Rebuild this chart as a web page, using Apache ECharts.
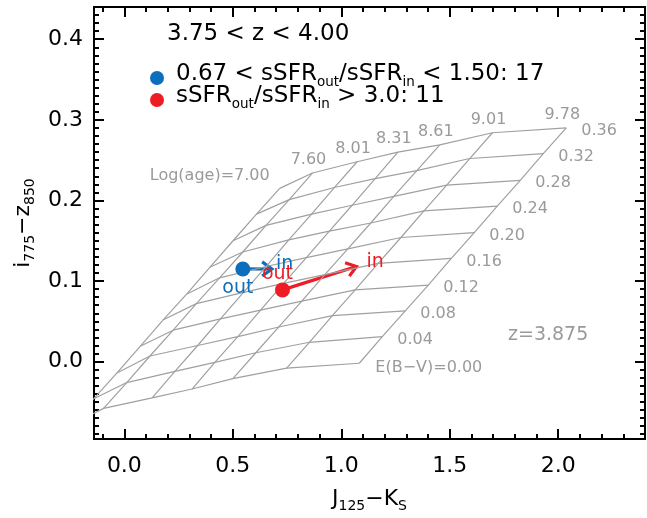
<!DOCTYPE html>
<html>
<head>
<meta charset="utf-8">
<script src="https://cdn.jsdelivr.net/npm/echarts@6/dist/echarts.min.js"></script>
<style>
html,body{margin:0;padding:0;background:#fff;}
#chart{width:647px;height:518px;}
</style>
</head>
<body>
<div id="chart"></div>
<script>
// ---- data ----
const ages = ['7.00', '7.60', '8.01', '8.31', '8.61', '9.01', '9.78'];
const ebv = ['0.00', '0.04', '0.08', '0.12', '0.16', '0.20', '0.24', '0.28', '0.32', '0.36'];

// J125-Ks and i775-z850 of the model grid, one pair of arrays per log(age), ordered by E(B-V)
const jk_700 = [-0.248, -0.141, -0.034, 0.073, 0.180, 0.288, 0.394, 0.501, 0.609, 0.716];
const iz_700 = [-0.079, -0.046, -0.014, 0.019, 0.052, 0.084, 0.117, 0.150, 0.183, 0.215];
const jk_760 = [-0.096, 0.011, 0.118, 0.225, 0.332, 0.439, 0.546, 0.653, 0.760, 0.867];
const iz_760 = [-0.058, -0.026, 0.007, 0.039, 0.072, 0.104, 0.136, 0.169, 0.201, 0.234];
const jk_801 = [0.128, 0.233, 0.338, 0.443, 0.549, 0.653, 0.758, 0.863, 0.968, 1.073];
const iz_801 = [-0.045, -0.012, 0.020, 0.053, 0.086, 0.118, 0.151, 0.183, 0.216, 0.248];
const jk_831 = [0.312, 0.417, 0.523, 0.628, 0.734, 0.839, 0.945, 1.050, 1.156, 1.261];
const iz_831 = [-0.034, -0.001, 0.031, 0.064, 0.097, 0.129, 0.162, 0.194, 0.227, 0.260];
const jk_861 = [0.500, 0.606, 0.712, 0.818, 0.924, 1.030, 1.136, 1.242, 1.348, 1.454];
const iz_861 = [-0.021, 0.011, 0.043, 0.075, 0.108, 0.140, 0.172, 0.205, 0.237, 0.269];
const jk_901 = [0.748, 0.853, 0.959, 1.064, 1.170, 1.275, 1.381, 1.486, 1.592, 1.697];
const iz_901 = [-0.008, 0.024, 0.057, 0.089, 0.122, 0.154, 0.187, 0.219, 0.252, 0.284];
const jk_978 = [1.083, 1.189, 1.295, 1.401, 1.507, 1.613, 1.719, 1.825, 1.931, 2.037];
const iz_978 = [-0.002, 0.031, 0.063, 0.095, 0.128, 0.160, 0.193, 0.225, 0.258, 0.290];

// galaxies: outer and inner colours
const blueOut = [0.546, 0.115];
const blueIn = [0.680, 0.115];
const redOut = [0.729, 0.089];
const redIn = [1.070, 0.118];

const xTicks = [0.0, 0.5, 1.0, 1.5, 2.0];
const yTicks = [0.0, 0.1, 0.2, 0.3, 0.4];

const legendTitle = '3.75 < z < 4.00';
const blueCount = 17;
const redCount = 11;
const zModel = 'z=3.875';

// ---- build ----
const jkByAge = [jk_700, jk_760, jk_801, jk_831, jk_861, jk_901, jk_978];
const izByAge = [iz_700, iz_760, iz_801, iz_831, iz_861, iz_901, iz_978];

const XMIN = -0.14, XMAX = 2.4, YMIN = -0.096, YMAX = 0.44;
const xMinor = [];
for (let i = -1; i <= 23; i++) { if (i % 5 !== 0) xMinor.push(+(i * 0.1).toFixed(2)); }
const yMinor = [];
for (let i = -9; i <= 43; i++) { if (i % 10 !== 0) yMinor.push(+(i * 0.01).toFixed(3)); }

const FONT = 'DejaVu Sans';
const GRAY = '#a0a0a0';
const LGRAY = '#9a9a9a';
const BLUE = '#0d6ebb';
const RED = '#ee1d25';

function mkX(pos, ticks, len, labels, width) {
  return {
    type: 'value', position: pos, min: XMIN, max: XMAX,
    axisLine: { show: false, onZero: false }, splitLine: { show: false },
    axisTick: { show: true, inside: true, length: len, customValues: ticks, lineStyle: { color: '#000', width: width } },
    axisLabel: labels ? { show: true, customValues: xTicks, margin: 16, color: '#000', fontFamily: FONT, fontSize: 22, formatter: v => v.toFixed(1) } : { show: false }
  };
}
function mkY(pos, ticks, len, labels, width) {
  return {
    type: 'value', position: pos, min: YMIN, max: YMAX,
    axisLine: { show: false, onZero: false }, splitLine: { show: false },
    axisTick: { show: true, inside: true, length: len, customValues: ticks, lineStyle: { color: '#000', width: width } },
    axisLabel: labels ? { show: true, customValues: yTicks, margin: 11, color: '#000', fontFamily: FONT, fontSize: 22, formatter: v => v.toFixed(1) } : { show: false }
  };
}

const series = [];
// constant-age lines
ages.forEach((a, i) => {
  series.push({
    type: 'line', xAxisIndex: 0, yAxisIndex: 0, symbol: 'none', silent: true, clip: true,
    lineStyle: { color: GRAY, width: 1.2 },
    data: jkByAge[i].map((x, k) => [x, izByAge[i][k]])
  });
});
// constant-E(B-V) lines
ebv.forEach((e, k) => {
  series.push({
    type: 'line', xAxisIndex: 0, yAxisIndex: 0, symbol: 'none', silent: true, clip: true,
    lineStyle: { color: GRAY, width: 1.2 },
    data: ages.map((a, i) => [jkByAge[i][k], izByAge[i][k]])
  });
});

// grid labels (age along the top edge, E(B-V) along the right edge)
const labelData = [];
ages.forEach((a, i) => {
  labelData.push({ value: [jkByAge[i][9], izByAge[i][9]], text: i === 0 ? 'Log(age)=' + a : a, kind: i === 0 ? 'ageFirst' : 'age' });
});
ebv.forEach((e, k) => {
  labelData.push({ value: [jk_978[k], iz_978[k]], text: k === 0 ? 'E(B\u2212V)=' + e : e, kind: k === 0 ? 'ebvFirst' : 'ebv' });
});
series.push({
  type: 'custom', xAxisIndex: 0, yAxisIndex: 0, silent: true, clip: false,
  data: labelData,
  renderItem: (params, api) => {
    const d = labelData[params.dataIndex];
    const p = api.coord([api.value(0), api.value(1)]);
    let x, y, align;
    if (d.kind === 'ageFirst') { x = p[0] - 10; y = p[1] - 12; align = 'right'; }
    else if (d.kind === 'age') { x = p[0] - 4; y = p[1] - 13; align = 'center'; }
    else if (d.kind === 'ebvFirst') { x = p[0] + 16; y = p[1] + 5; align = 'left'; }
    else { x = p[0] + 15; y = p[1] + 3; align = 'left'; }
    return { type: 'text', x: x, y: y, style: { text: d.text, fill: LGRAY, font: '16px "' + FONT + '"', align: align, verticalAlign: 'middle' } };
  }
});

// arrows from outer to inner colours
const arrowData = [
  { value: [blueOut[0], blueOut[1], blueIn[0], blueIn[1]], color: BLUE },
  { value: [redOut[0], redOut[1], redIn[0], redIn[1]], color: RED }
];
series.push({
  type: 'custom', xAxisIndex: 0, yAxisIndex: 0, silent: true, clip: false,
  data: arrowData,
  renderItem: (params, api) => {
    const c = arrowData[params.dataIndex].color;
    const p0 = api.coord([api.value(0), api.value(1)]);
    const p1 = api.coord([api.value(2), api.value(3)]);
    const ang = Math.atan2(p1[1] - p0[1], p1[0] - p0[0]);
    const L = 12, A = Math.PI / 5;
    const h1 = [p1[0] - L * Math.cos(ang - A), p1[1] - L * Math.sin(ang - A)];
    const h2 = [p1[0] - L * Math.cos(ang + A), p1[1] - L * Math.sin(ang + A)];
    return {
      type: 'group', children: [
        { type: 'line', shape: { x1: p0[0], y1: p0[1], x2: p1[0], y2: p1[1] }, style: { stroke: c, lineWidth: 3.2 } },
        { type: 'polyline', shape: { points: [h1, p1, h2] }, style: { stroke: c, lineWidth: 3.2, fill: null, lineJoin: 'miter' } }
      ]
    };
  }
});
// dots
series.push({
  type: 'scatter', xAxisIndex: 0, yAxisIndex: 0, silent: true, symbolSize: 15, z: 5,
  itemStyle: { opacity: 1 },
  data: [{ value: blueOut, itemStyle: { color: BLUE } }, { value: redOut, itemStyle: { color: RED } }]
});
// out / in labels
const tagData = [
  { value: blueIn, text: 'in', color: BLUE, dx: 4, dy: -5, align: 'left' },
  { value: blueOut, text: 'out', color: BLUE, dx: -5, dy: 19, align: 'center' },
  { value: redOut, text: 'out', color: RED, dx: -5, dy: -16, align: 'center' },
  { value: redIn, text: 'in', color: RED, dx: 10, dy: -4, align: 'left' }
];
series.push({
  type: 'custom', xAxisIndex: 0, yAxisIndex: 0, silent: true, clip: false, z: 6,
  data: tagData,
  renderItem: (params, api) => {
    const d = tagData[params.dataIndex];
    const p = api.coord([api.value(0), api.value(1)]);
    return { type: 'text', x: p[0] + d.dx, y: p[1] + d.dy, style: { text: d.text, fill: d.color, font: '19px "' + FONT + '"', align: d.align, verticalAlign: 'middle' } };
  }
});

const rich = {
  m: { fontFamily: FONT, fontSize: 23, color: '#000', lineHeight: 30, verticalAlign: 'middle' },
  s: { fontFamily: FONT, fontSize: 13.5, color: '#000', lineHeight: 14, verticalAlign: 'bottom', padding: [0, 0, 0, 0] }
};

const option = {
  animation: false,
  backgroundColor: '#fff',
  grid: { left: 94, right: 2, top: 7, bottom: 74, show: true, borderColor: '#000', borderWidth: 2, backgroundColor: 'transparent', containLabel: false },
  xAxis: [
    Object.assign(mkX('bottom', xTicks, 10, true, 2), {
      name: '{m|J}{s|125}{m|\u2212K}{s|S}', nameLocation: 'middle', nameGap: 46,
      nameTextStyle: { rich: { m: { fontFamily: FONT, fontSize: 22, color: '#000', lineHeight: 28 }, s: { fontFamily: FONT, fontSize: 14, color: '#000', lineHeight: 14, verticalAlign: 'bottom' } } }
    }),
    mkX('bottom', xMinor, 5, false, 2),
    mkX('top', xTicks, 10, false, 2),
    mkX('top', xMinor, 5, false, 2)
  ],
  yAxis: [
    Object.assign(mkY('left', yTicks, 10, true, 2), {
      name: '{m|i}{s|775}{m|\u2212z}{s|850}', nameLocation: 'middle', nameGap: 56, nameRotate: 90,
      nameTextStyle: { rich: { m: { fontFamily: FONT, fontSize: 22, color: '#000', lineHeight: 28 }, s: { fontFamily: FONT, fontSize: 14, color: '#000', lineHeight: 14, verticalAlign: 'bottom' } } }
    }),
    mkY('left', yMinor, 5, false, 2),
    mkY('right', yTicks, 10, false, 2),
    mkY('right', yMinor, 5, false, 2)
  ],
  series: series,
  graphic: [
    { type: 'text', left: 167, top: 23, style: { text: legendTitle, font: '23px "' + FONT + '"', fill: '#000' } },
    { type: 'circle', shape: { cx: 157, cy: 78, r: 7 }, style: { fill: BLUE } },
    { type: 'text', left: 176, top: 63, style: { text: '{m|0.67 < sSFR}{s|out}{m|/sSFR}{s|in}{m| < 1.50: ' + blueCount + '}', rich: rich } },
    { type: 'circle', shape: { cx: 157, cy: 100, r: 7 }, style: { fill: RED } },
    { type: 'text', left: 176, top: 85, style: { text: '{m|sSFR}{s|out}{m|/sSFR}{s|in}{m| > 3.0: ' + redCount + '}', rich: rich } },
    { type: 'text', left: 508, top: 326, style: { text: zModel, font: '19px "' + FONT + '"', fill: LGRAY } }
  ]
};

const chart = echarts.init(document.getElementById('chart'), null, { renderer: 'canvas' });
chart.setOption(option);
</script>
</body>
</html>
